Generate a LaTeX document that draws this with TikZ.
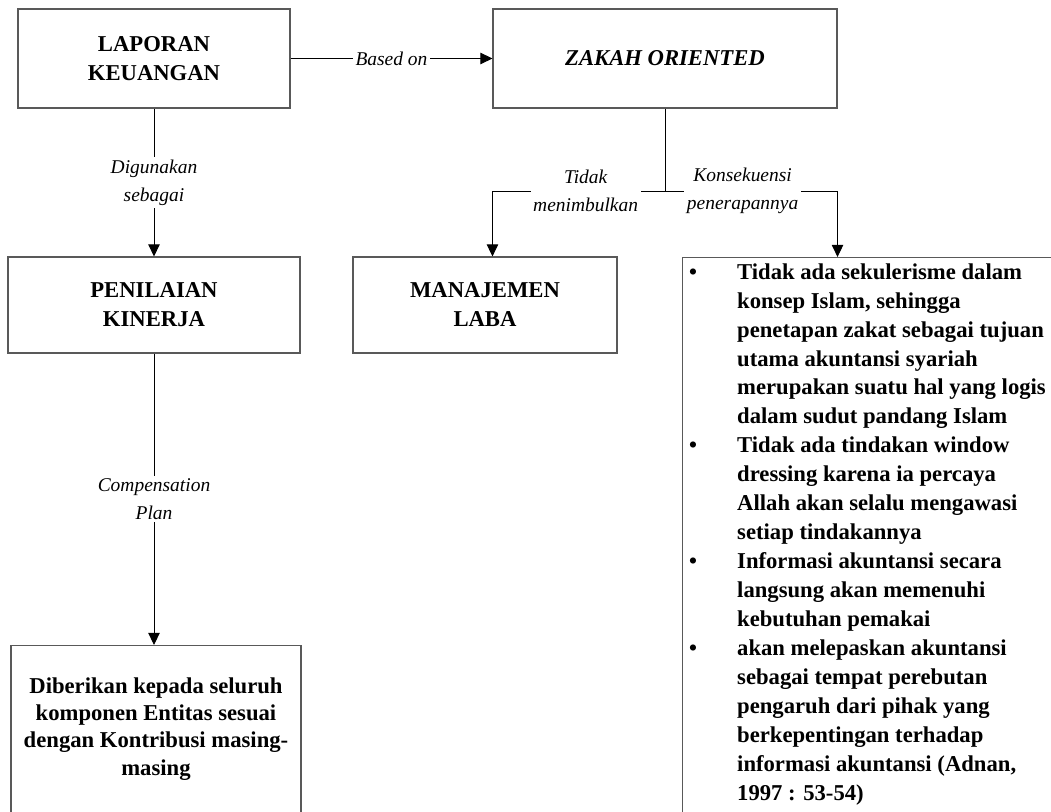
\documentclass[tikz,border=0pt]{standalone}
\usepackage{fontspec}
\setmainfont{Liberation Serif}
\usetikzlibrary{arrows.meta}
\newcommand{\blt}{\makebox[36pt][l]{\textbullet}}
\newcommand{\ind}{\hspace*{36pt}}
\begin{document}
\begin{tikzpicture}[x=0.75pt,y=-0.75pt,
  box/.style={draw=black!65,line width=0.8pt,align=center,inner sep=0pt,
    font=\fontsize{17}{21.75}\selectfont\bfseries},
  lbl/.style={fill=white,align=center,inner sep=2pt,
    font=\fontsize{14.6}{21}\selectfont\itshape},
  arr/.style={-{Triangle[width=8.5pt,length=9pt]},line width=0.7pt}]
\useasboundingbox (0,0) rectangle (1051,812);
\clip (0,0) rectangle (1051,812);
\node[box,minimum width=204pt,minimum height=74.25pt] (lap) at (154,58.5) {LAPORAN\\KEUANGAN};
\node[box,minimum width=258pt,minimum height=74.25pt] (zak) at (665,58.5) {\itshape ZAKAH ORIENTED};
\node[box,minimum width=219pt,minimum height=72pt] (pen) at (154,305) {PENILAIAN\\KINERJA};
\node[box,minimum width=198pt,minimum height=72pt] (man) at (485,305) {MANAJEMEN\\LABA};
% kotak bawah dan kotak poin terpotong di tepi gambar
\node[box,anchor=north,inner ysep=24pt] (div) at (156,645)
  {\parbox[t][160pt][t]{217.5pt}{\centering\fontsize{17}{20.5}\selectfont
   Diberikan kepada seluruh\\komponen Entitas sesuai\\dengan Kontribusi masing-\\masing}};
\node[box,anchor=north west,inner xsep=5pt,inner ysep=4.5pt] (blt) at (682,257)
  {\parbox[t][440pt][t]{300pt}{\raggedright\fontsize{17}{21.7}\selectfont
   \blt Tidak ada sekulerisme dalam\\
   \ind konsep Islam, sehingga\\
   \ind penetapan zakat sebagai tujuan\\
   \ind utama akuntansi syariah\\
   \ind merupakan suatu hal yang logis\\
   \ind dalam sudut pandang Islam\\
   \blt Tidak ada tindakan window\\
   \ind dressing karena ia percaya\\
   \ind Allah akan selalu mengawasi\\
   \ind setiap tindakannya\\
   \blt Informasi akuntansi secara\\
   \ind langsung akan memenuhi\\
   \ind kebutuhan pemakai\\
   \blt akan melepaskan akuntansi\\
   \ind sebagai tempat perebutan\\
   \ind pengaruh dari pihak yang\\
   \ind berkepentingan terhadap\\
   \ind informasi akuntansi (Adnan,\\
   \ind 1997 : 53-54)}};
\coordinate (jn) at (zak.south |- 0,191);
\draw[arr] (lap) -- node[lbl] {Based on} (zak);
\draw[arr] (lap) -- node[lbl] {Digunakan\\sebagai} (pen);
\draw[arr] (pen.south) -- node[lbl] {Compensation\\Plan} (pen.south |- div.north);
\draw[line width=0.7pt] (zak.south) -- (jn);
\draw[arr] (jn) -- node[lbl,pos=0.46] {Tidak\\menimbulkan} (jn -| zak.west) -- (zak.west |- man.north);
\draw[arr] (jn) -- node[lbl,pos=0.45] {Konsekuensi\\penerapannya} (jn -| zak.east) -- (zak.east |- blt.north);
\end{tikzpicture}
\end{document}
